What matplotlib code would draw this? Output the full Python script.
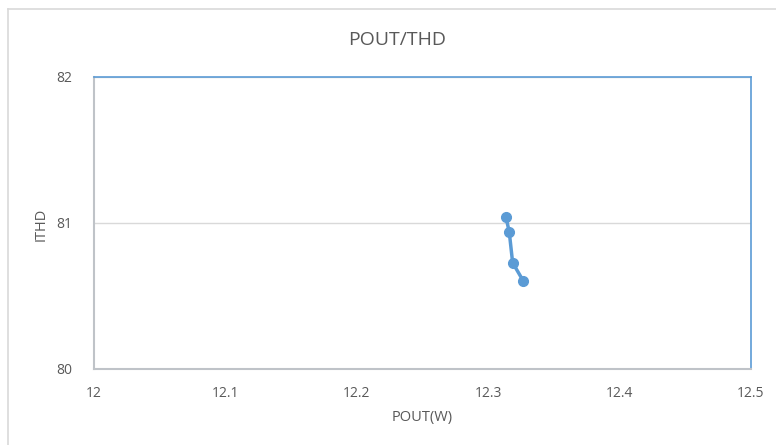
import matplotlib.pyplot as plt
from matplotlib.lines import Line2D

# values
pout = [12.3135, 12.316, 12.3186, 12.3267]
ithd = [81.04, 80.94, 80.728, 80.603]
x_ticks = [12, 12.1, 12.2, 12.3, 12.4, 12.5]
x_labels = ['12', '12.1', '12.2', '12.3', '12.4', '12.5']
y_ticks = [80, 81, 82]

plt.rcParams['font.family'] = ['Open Sans', 'DejaVu Sans']
text_col = '#595959'

fig = plt.figure(figsize=(7.76, 4.45), dpi=100)
ax = fig.add_axes([94 / 776, 76 / 445, 657 / 776, 292 / 445])

# outer chart frame, only top and left edges fall inside the picture
fx = 8 / 776
fy = 1 - 9 / 445
fig.lines.append(Line2D([fx, fx], [0, fy], transform=fig.transFigure, color='#D9D9D9', linewidth=1.2))
fig.lines.append(Line2D([fx, 1], [fy, fy], transform=fig.transFigure, color='#D9D9D9', linewidth=1.2))

ax.plot(pout, ithd, color='#5B9BD5', linewidth=2.5, marker='o', markersize=7,
        zorder=3, clip_on=False)

ax.set_xlim(12, 12.5)
ax.set_ylim(80, 82)
ax.set_xticks(x_ticks)
ax.set_xticklabels(x_labels)
ax.set_yticks(y_ticks)
ax.yaxis.grid(True, color='#D9D9D9', linewidth=1)
ax.set_axisbelow(True)
ax.tick_params(length=0, labelsize=10, colors=text_col)
ax.tick_params(axis='x', pad=12)
ax.tick_params(axis='y', pad=16)

for side in ['left', 'bottom']:
    ax.spines[side].set_color('#BFC3C8')
    ax.spines[side].set_linewidth(1.5)
for side in ['top', 'right']:
    ax.spines[side].set_color('#5B9BD5')
    ax.spines[side].set_linewidth(1.2)

fig.text(397 / 776, 1 - 40 / 445, 'POUT/THD', ha='center', va='center',
         fontsize=14, color=text_col)
fig.text(422 / 776, 1 - 418 / 445, 'POUT(W)', ha='center', va='center',
         fontsize=10.5, color=text_col)
fig.text(41 / 776, 1 - 224 / 445, 'ITHD', ha='center', va='center',
         fontsize=10.5, color=text_col, rotation=90)

fig.savefig('out.png', dpi=100)
